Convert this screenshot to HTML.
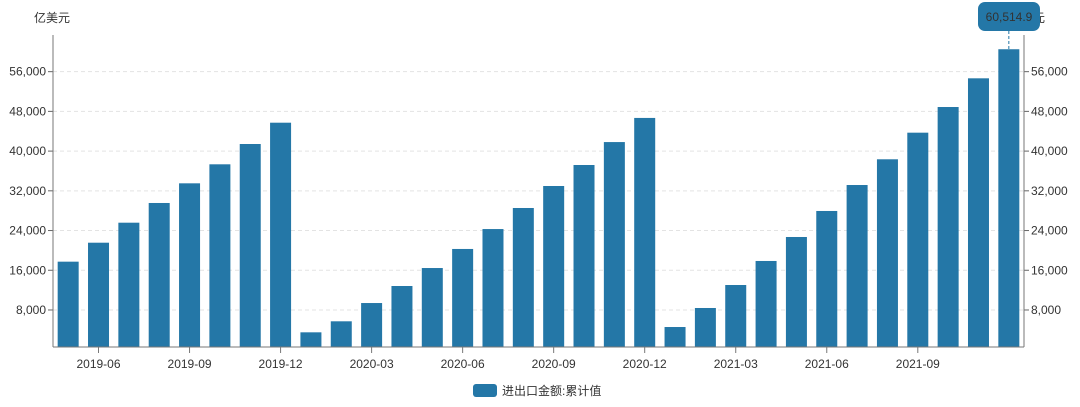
<!DOCTYPE html>
<html><head><meta charset="utf-8"><style>
body{margin:0;background:#fff;width:1080px;height:402px;overflow:hidden}
svg text{font-family:"Liberation Sans","Noto Sans CJK SC",sans-serif;fill:#333}
</style></head><body>
<svg id="chart" width="1080" height="402" xmlns="http://www.w3.org/2000/svg"></svg>
<script>
const categories=["2019-05","2019-06","2019-07","2019-08","2019-09","2019-10","2019-11","2019-12","2020-01","2020-02","2020-03","2020-04","2020-05","2020-06","2020-07","2020-08","2020-09","2020-10","2020-11","2020-12","2021-01","2021-02","2021-03","2021-04","2021-05","2021-06","2021-07","2021-08","2021-09","2021-10","2021-11","2021-12"];
const values=[17730,21550,25580,29550,33510,37340,41430,45720,3500,5720,9400,12830,16450,20290,24300,28540,32970,37200,41820,46680,4570,8400,13030,17870,22700,27940,33170,38350,43710,48880,54660,60514.9];
const yTicks=[8000,16000,24000,32000,40000,48000,56000];
const xLabels=["2019-06","2019-09","2019-12","2020-03","2020-06","2020-09","2020-12","2021-03","2021-06","2021-09"];
const L=53,R=1024,B=347,T=35;
const band=(R-L)/categories.length;
const xC=i=>L+band*(i+0.5);
const y=v=>349.7-v*0.004965;
const svg=document.getElementById('chart');
const NS='http://www.w3.org/2000/svg';
function mk(tag,attrs,parent){const e=document.createElementNS(NS,tag);for(const k in attrs)e.setAttribute(k,attrs[k]);(parent||svg).appendChild(e);return e;}
yTicks.forEach(t=>{
 const g=mk('line',{x1:L,x2:R,y1:y(t),y2:y(t),stroke:'#e3e3e3','stroke-dasharray':'4,3'});
 
 
 mk('line',{x1:L-5,x2:L,y1:y(t),y2:y(t),stroke:'#666'});
 mk('line',{x1:R,x2:R+5,y1:y(t),y2:y(t),stroke:'#666'});
 const a=mk('text',{x:L-7,y:y(t)+4,'text-anchor':'end','font-size':12});a.textContent=t.toLocaleString('en-US');
 
 
 const b=mk('text',{x:R+7,y:y(t)+4,'font-size':12});b.textContent=t.toLocaleString('en-US');
 
 
});
values.forEach((v,i)=>{
 const r=mk('rect',{x:xC(i)-10.5,y:y(v),width:21,height:B-y(v),fill:'#2477a7'});
 
 
});
mk('line',{x1:L,x2:L,y1:T,y2:B,stroke:'#777'});
mk('line',{x1:R,x2:R,y1:T,y2:B,stroke:'#777'});
mk('line',{x1:L,x2:R,y1:B,y2:B,stroke:'#777'});
xLabels.forEach(lb=>{
 const i=categories.indexOf(lb);
 mk('line',{x1:xC(i),x2:xC(i),y1:B,y2:B+6,stroke:'#777'});
 const t=mk('text',{x:xC(i),y:368,'text-anchor':'middle','font-size':12});t.textContent=lb;
 
 
});
const last=values.length-1;
const tip=mk('line',{x1:xC(last),x2:xC(last),y1:31,y2:y(values[last]),stroke:'#2477a7','stroke-dasharray':'3,2'});


</script>
<svg style="position:absolute;left:0;top:0" width="1080" height="402" xmlns="http://www.w3.org/2000/svg">
<text x="34" y="22" font-size="12" font-family="Liberation Sans, Noto Sans CJK SC, sans-serif" fill="#333">亿美元</text>
<text x="1009" y="22" font-size="12" font-family="Liberation Sans, Noto Sans CJK SC, sans-serif" fill="#333">亿美元</text>
<rect x="978" y="2" width="62" height="29" rx="7" fill="#2477a7"/>
<text x="1009" y="21" font-size="12" text-anchor="middle" font-family="Liberation Sans, sans-serif" fill="#fff">60,514.9</text>
<rect x="473" y="384" width="24" height="13" rx="3" fill="#2477a7"/>
<text x="502" y="395" font-size="12" font-family="Liberation Sans, Noto Sans CJK SC, sans-serif" fill="#333">进出口金额:累计值</text>
</svg>
</body></html>
